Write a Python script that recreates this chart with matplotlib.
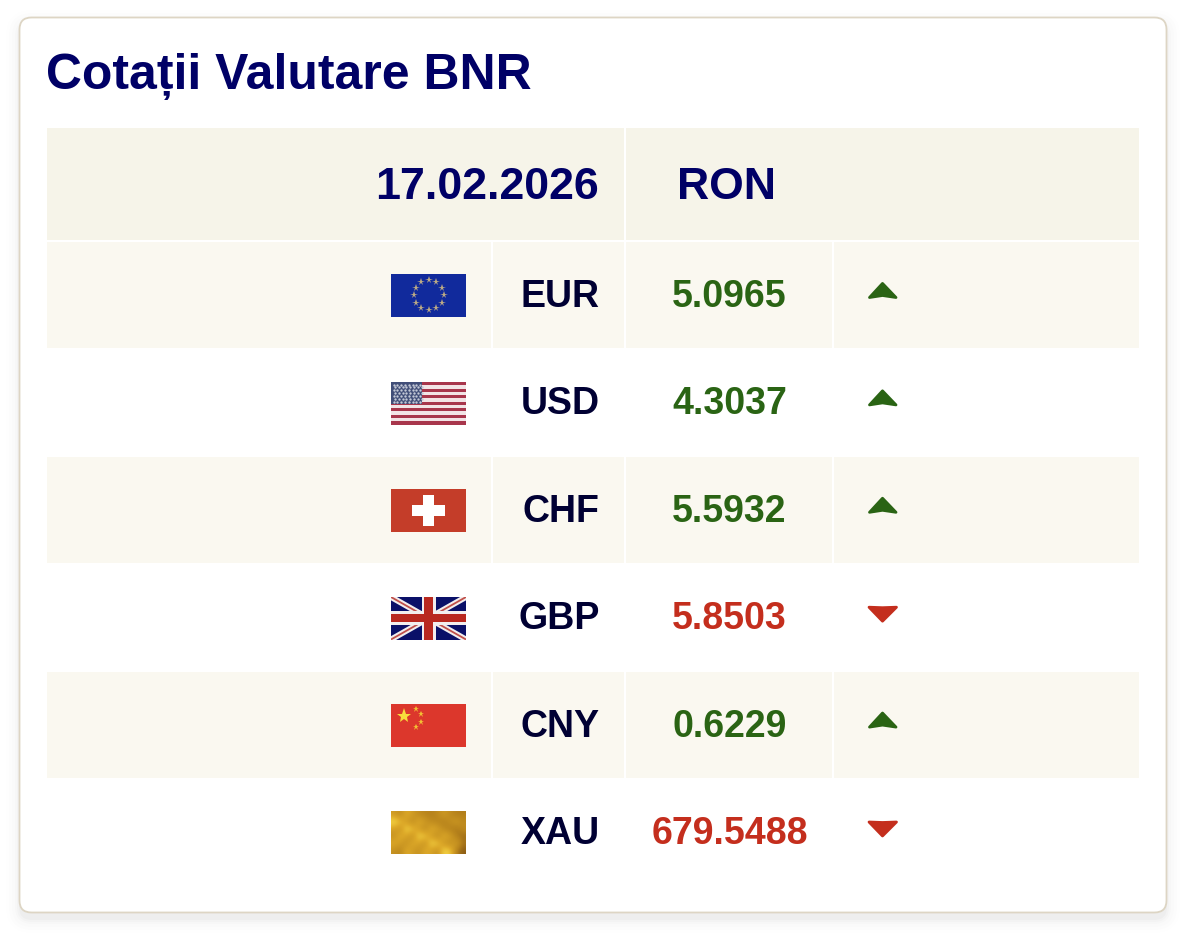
"""
Cotatii Valutare BNR - exchange rate card redrawn in matplotlib.
The axes use pixel units, y going down, so the layout reads like the page.
"""

import matplotlib.pyplot as plt
from matplotlib.colors import LinearSegmentedColormap
from matplotlib.patches import FancyBboxPatch, Polygon, Rectangle

plt.rcParams["font.family"] = ["Liberation Sans", "DejaVu Sans"]

TITLE = "Cotații Valutare BNR"
DATE = "17.02.2026"
BASE = "RON"
currencies = ["EUR", "USD", "CHF", "GBP", "CNY", "XAU"]
rates = ["5.0965", "4.3037", "5.5932", "5.8503", "0.6229", "679.5488"]
trends = ["up", "up", "up", "down", "up", "down"]

# brightness patches of the gold picture, read by eye from the crop
gold_cells = [
    [0.55, 0.40, 0.70, 0.55, 0.40, 0.35, 0.30, 0.40, 0.55, 0.40, 0.30, 0.30],
    [1.00, 0.80, 0.55, 0.40, 0.70, 0.55, 0.40, 0.35, 0.30, 0.45, 0.55, 0.40],
    [0.60, 0.45, 0.95, 0.80, 0.55, 0.40, 0.70, 0.60, 0.40, 0.30, 0.25, 0.40],
    [0.45, 0.75, 0.60, 0.45, 0.95, 0.85, 0.55, 0.40, 0.70, 0.60, 0.30, 0.20],
    [0.70, 0.55, 0.45, 0.70, 0.60, 0.45, 0.95, 0.85, 0.50, 0.40, 0.60, 0.25],
    [0.45, 0.35, 0.70, 0.55, 0.45, 0.70, 0.60, 0.45, 0.95, 0.85, 0.30, 0.10],
]

NAVY = "#000066"
INK = "#000033"
GREEN = "#2a6414"
RED = "#c42e1d"
HEAD_BG = "#f6f4e9"
ROW_BG = "#faf8f0"
BORDER = "#ddd5c4"

# layout in pixels
LEFT, RIGHT = 47, 1139
ROW_TOP = 242
ROW_STEP = 107.4
ROW_H = 106
COLS = [(47, 491), (493, 624), (626, 832), (834, 1139)]
FLAG_X, FLAG_W, FLAG_H = 391, 75, 42.5

fig = plt.figure(figsize=(11.96, 9.44), dpi=100, facecolor="white")
ax = fig.add_axes([0, 0, 1, 1])


def rect(x, y, w, h, color, z=3, clip=None):
    patch = Rectangle((x, y), w, h, facecolor=color, edgecolor="none", zorder=z)
    ax.add_patch(patch)
    if clip is not None:
        patch.set_clip_path(clip)
    return patch


def flag_eur(y):
    rect(FLAG_X, y, FLAG_W, FLAG_H, "#112a9c")
    cx, cy = FLAG_X + FLAG_W / 2, y + FLAG_H / 2
    ring = [(0, -15), (7.5, -13), (13, -7.5), (15, 0), (13, 7.5), (7.5, 13),
            (0, 15), (-7.5, 13), (-13, 7.5), (-15, 0), (-13, -7.5), (-7.5, -13)]
    for dx, dy in ring:
        ax.plot(cx + dx, cy + dy, marker="*", ms=5.5, color="#bdab85", mew=0, zorder=4)


def flag_usd(y):
    for i in range(13):
        tone = "#a8364c" if i % 2 == 0 else "#f2e4e6"
        rect(FLAG_X, y + i * FLAG_H / 13, FLAG_W, FLAG_H / 13 + 0.2, tone)
    rect(FLAG_X, y, 31, 22, "#414e78", z=4)
    for row in range(7):
        for col in range(8):
            ax.plot(FLAG_X + 2.5 + col * 3.8 + (row % 2) * 1.5, y + 2.5 + row * 2.9,
                    marker="o", ms=1.7, color="#c3c8d6", mew=0, zorder=5)


def flag_chf(y):
    rect(FLAG_X, y, FLAG_W, FLAG_H, "#c43d29")
    cx, cy = FLAG_X + FLAG_W / 2, y + FLAG_H / 2
    rect(cx - 16.5, cy - 5.5, 33, 11, "white", z=4)
    rect(cx - 5.5, cy - 15.5, 11, 31, "white", z=4)


def flag_gbp(y):
    back = rect(FLAG_X, y, FLAG_W, FLAG_H, "#0a1068")
    x0, x1, y0, y1 = FLAG_X, FLAG_X + FLAG_W, y, y + FLAG_H
    for a, b in [((x0, y0), (x1, y1)), ((x0, y1), (x1, y0))]:
        line, = ax.plot(*zip(a, b), color="#f2eeee", lw=4.2, zorder=4, solid_capstyle="butt")
        line.set_clip_path(back)
        line, = ax.plot(*zip(a, b), color="#c0504a", lw=1.3, zorder=5, solid_capstyle="butt")
        line.set_clip_path(back)
    cx, cy = FLAG_X + FLAG_W / 2, y + FLAG_H / 2
    rect(x0, cy - 7, FLAG_W, 14, "#f2eeee", z=6)
    rect(cx - 7, y0, 14, FLAG_H, "#f2eeee", z=6)
    rect(x0, cy - 4.2, FLAG_W, 8.4, "#b9281f", z=7)
    rect(cx - 4.5, y0, 9, FLAG_H, "#b9281f", z=7)


def flag_cny(y):
    rect(FLAG_X, y, FLAG_W, FLAG_H, "#dc372c")
    ax.plot(FLAG_X + 12.5, y + 12, marker="*", ms=11, color="#f8dc3c", mew=0, zorder=4)
    for dx, dy in [(25, 5), (30, 10), (30, 18), (25, 23)]:
        ax.plot(FLAG_X + dx, y + dy, marker="*", ms=4.5, color="#f2c033", mew=0, zorder=4)


def flag_xau(y):
    gold = LinearSegmentedColormap.from_list(
        "gold", ["#7a4c12", "#b8841c", "#dca828", "#fbe04a"])
    ax.imshow(gold_cells, cmap=gold, vmin=0, vmax=1, aspect="auto", zorder=3,
              interpolation="bicubic",
              extent=(FLAG_X, FLAG_X + FLAG_W, y + FLAG_H, y))


flags = {"EUR": flag_eur, "USD": flag_usd, "CHF": flag_chf,
         "GBP": flag_gbp, "CNY": flag_cny, "XAU": flag_xau}

# soft card shadow, stacked layers
for grow, alpha in [(14, 0.005), (11, 0.007), (8, 0.009), (5, 0.012), (3, 0.015), (1, 0.018)]:
    ax.add_patch(FancyBboxPatch(
        (20 - grow, 24 - grow), 1146 + 2 * grow, 895 + 2 * grow,
        boxstyle="round,pad=0,rounding_size=%d" % (12 + grow),
        facecolor="black", edgecolor="none", alpha=alpha, zorder=0))

# card
ax.add_patch(FancyBboxPatch(
    (19.5, 17.5), 1147, 895, boxstyle="round,pad=0,rounding_size=12",
    facecolor="white", edgecolor=BORDER, lw=1.3, zorder=1))

ax.text(46, 89, TITLE, fontsize=35.9, fontweight="bold", color=NAVY, zorder=5)

# header row
rect(LEFT, 128, 577, 112, HEAD_BG, z=2)
rect(626, 128, RIGHT - 626, 112, HEAD_BG, z=2)
ax.text(598.5, 199, DATE, ha="right", fontsize=32.2, fontweight="bold", color=NAVY, zorder=5)
ax.text(726, 199, BASE, ha="center", fontsize=32, fontweight="bold", color=NAVY, zorder=5)

# body rows
for i, (code, rate, trend) in enumerate(zip(currencies, rates, trends)):
    top = ROW_TOP + i * ROW_STEP
    if i % 2 == 0:
        for x0, x1 in COLS:
            rect(x0, top, x1 - x0, ROW_H, ROW_BG, z=2)

    flags[code](round(top + 32.5))

    color = GREEN if trend == "up" else RED
    ax.text(599.5, top + 65, code, ha="right", fontsize=27, fontweight="bold", color=INK, zorder=5)
    ax.text(729.5, top + 65, rate, ha="center", fontsize=27, fontweight="bold", color=color, zorder=5)

    if trend == "up":
        shape = [(882.5, top + 41.4), (869.5, top + 55.5), (882.5, top + 53.5), (896, top + 55.5)]
    else:
        shape = [(882.5, top + 57), (869, top + 43), (882.5, top + 43.5), (896.5, top + 43)]
    ax.add_patch(Polygon(shape, closed=True, facecolor=color, edgecolor=color,
                         lw=2, joinstyle="round", zorder=5))

ax.set_xlim(0, 1196)
ax.set_ylim(944, 0)
ax.axis("off")

fig.savefig("out.png", dpi=100, facecolor="white")
